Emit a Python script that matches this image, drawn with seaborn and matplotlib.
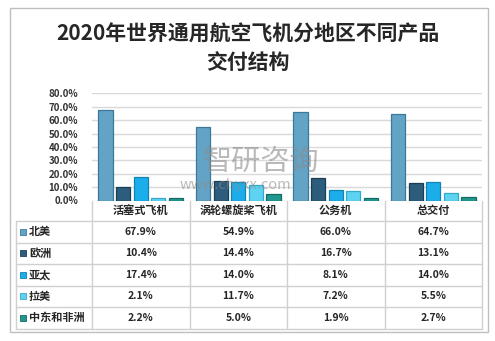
import matplotlib
matplotlib.use("Agg")
import matplotlib.pyplot as plt
import matplotlib.transforms as mtransforms
from matplotlib.lines import Line2D
from matplotlib.patches import Rectangle
import seaborn as sns
import pandas as pd

sns.set_theme(style="white")
plt.rcParams['font.family'] = ['Noto Sans CJK SC', 'DejaVu Sans']

title = "2020年世界通用航空飞机分地区不同产品\n交付结构"
categories = ["活塞式飞机", "涡轮螺旋桨飞机", "公务机", "总交付"]
regions = ["北美", "欧洲", "亚太", "拉美", "中东和非洲"]
na = [67.9, 54.9, 66.0, 64.7]
eu = [10.4, 14.4, 16.7, 13.1]
ap = [17.4, 14.0, 8.1, 14.0]
la = [2.1, 11.7, 7.2, 5.5]
mea = [2.2, 5.0, 1.9, 2.7]
series = [na, eu, ap, la, mea]
yticks = [0, 10, 20, 30, 40, 50, 60, 70, 80]

colors = ["#62A3C6", "#2D5D7C", "#1BAEEA", "#5DD3F1", "#21978F"]
edges = ["#3C7897", "#1C3E55", "#1383B3", "#35A9C8", "#146B65"]

rows = []
for r, vals in zip(regions, series):
    for c, v in zip(categories, vals):
        rows.append({"cat": c, "region": r, "val": v})
df = pd.DataFrame(rows)

W, H = 495, 341
fig = plt.figure(figsize=(W / 100, H / 100), dpi=100)

def fy(y):
    return 1 - y / H

ax_left, ax_right, ax_top, ax_bot = 92, 482, 93.3, 200.5
ax = fig.add_axes([ax_left / W, fy(ax_bot), (ax_right - ax_left) / W, (ax_bot - ax_top) / H])

sns.barplot(data=df, x="cat", y="val", hue="region", order=categories,
            hue_order=regions, palette=colors, saturation=1, width=0.9, gap=0.18,
            legend=False, ax=ax, zorder=3)
for cont, ec in zip(ax.containers, edges):
    for p in cont:
        p.set_edgecolor(ec)
        p.set_linewidth(0.9)

ax.set_xlim(-0.5, len(categories) - 0.5)
ax.set_ylim(0, 80)
ax.set_yticks(yticks)
ax.set_yticklabels([f"{t:.1f}%" for t in yticks], fontsize=7, fontweight="bold", color="#333333")
ax.tick_params(axis="y", length=0, pad=10)
ax.set_xticks([])
ax.set_xlabel("")
ax.set_ylabel("")
for s in ax.spines.values():
    s.set_visible(False)
ax.yaxis.grid(True, color="#D9D9D9", linewidth=1.0, zorder=0)
ax.set_axisbelow(True)

# outer border
fig.add_artist(Rectangle((10 / W, fy(332)), (488 - 10) / W, (332 - 8) / H,
                         transform=fig.transFigure, fill=False,
                         edgecolor="#BFBFBF", linewidth=1.0))

# title
fig.text(0.5, fy(48), title, ha="center", va="center", fontsize=15,
         fontweight="bold", color="#262626", linespacing=1.42)

# watermark
wm = dict(ha="left", va="center", color="#8C8C8C", alpha=0.6, zorder=10)
fig.text(203 / W, fy(162), "智研咨询", fontsize=21, fontweight="light", **wm)
fig.text(180 / W, fy(185), "www.chyxx.com", fontsize=10.5, **wm)

# data table
blend = mtransforms.blended_transform_factory(ax.transData, fig.transFigure)
line_c = "#D0D0D0"
row_bounds = [200.5, 221, 242.5, 264, 285.5, 307, 328.5]
tbl_left = 16

for i in range(len(categories) + 1):
    xb = i - 0.5
    fig.add_artist(Line2D([xb, xb], [fy(row_bounds[0]), fy(row_bounds[-1])], transform=blend,
                          color=line_c, linewidth=1.0))
fig.add_artist(Line2D([tbl_left / W, tbl_left / W], [fy(row_bounds[1]), fy(row_bounds[-1])],
                      transform=fig.transFigure, color=line_c, linewidth=1.0))
for k, yb in enumerate(row_bounds):
    if k == 0:
        continue
    fig.add_artist(Line2D([tbl_left / W, ax_right / W], [fy(yb), fy(yb)],
                          transform=fig.transFigure, color=line_c, linewidth=1.0))

hy = (row_bounds[0] + row_bounds[1]) / 2
for i, c in enumerate(categories):
    fig.text(i, fy(hy), c, transform=blend, ha="center", va="center",
             fontsize=8, fontweight="bold", color="#262626")

for r_i, (r, vals) in enumerate(zip(regions, series)):
    yc = (row_bounds[r_i + 1] + row_bounds[r_i + 2]) / 2
    fig.add_artist(Rectangle((19.5 / W, fy(yc + 3)), 6 / W, 6 / H,
                             transform=fig.transFigure, facecolor=colors[r_i],
                             edgecolor=edges[r_i], linewidth=0.6))
    fig.text(29 / W, fy(yc), r, ha="left", va="center", fontsize=8,
             fontweight="bold", color="#262626")
    for i, v in enumerate(vals):
        fig.text(i, fy(yc), f"{v:.1f}%", transform=blend, ha="center", va="center",
                 fontsize=7.5, fontweight="bold", color="#262626")

fig.savefig("out.png", dpi=100)
